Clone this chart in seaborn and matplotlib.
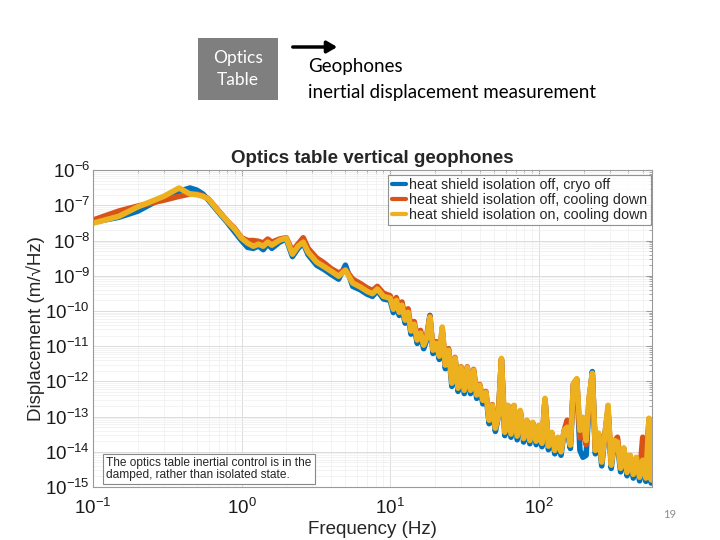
import numpy as np
import pandas as pd
import matplotlib
matplotlib.use("Agg")
import matplotlib.pyplot as plt
from matplotlib.ticker import LogLocator, NullFormatter
import seaborn as sns

# ---------------- data ----------------
freq_low = [0.1, 0.15, 0.2, 0.3, 0.38, 0.45, 0.5, 0.55, 0.6, 0.7,
            0.8, 0.9, 1.0, 1.1, 1.2, 1.3, 1.4, 1.5, 1.6, 1.8,
            2.0, 2.2, 2.4, 2.6, 2.8, 3.2, 3.6, 4.0, 4.5, 5.0,
            5.6, 6.3, 7.0, 7.6, 8.2, 9]
freq_high = [10, 10.5, 11, 11.5, 12, 12.6, 13.2, 13.8, 14.5, 15.2,
             16, 16.8, 17.6, 18.5, 19.4, 20.4, 21.4, 22.4, 23.5, 24.7,
             26, 27.3, 28.6, 30, 31.5, 33, 34.7, 36.4, 38.2, 40,
             42, 44, 46.3, 48.6, 51, 53.5, 56, 59, 62, 65,
             68, 71.5, 75, 79, 83, 87, 91, 96, 100, 105,
             110, 116, 122, 128, 134, 141, 148, 155, 163, 171,
             180, 189, 198, 208, 218, 229, 240, 252, 265, 278,
             292, 307, 322, 338, 355, 373, 392, 411, 432, 453,
             476, 500, 525, 551, 570, 580]

# heat shield isolation off, cryo off
cryo_off_low = [3.3e-8, 4.6e-8, 6.8e-8, 1.7e-7, 2.5e-7, 3.1e-7, 2.7e-7, 2.1e-7, 1.4e-7, 6.4e-8,
                3.3e-8, 1.75e-8, 1.0e-8, 6.4e-9, 6.0e-9, 7.0e-9, 5.5e-9, 8.0e-9, 6.0e-9, 9.0e-9,
                1.1e-8, 3.5e-9, 6.0e-9, 8.5e-9, 4.0e-9, 2.0e-9, 1.5e-9, 1.1e-9, 8.0e-10, 2.0e-9,
                5.0e-10, 4.0e-10, 3.0e-10, 2.6e-10, 3.8e-10, 2.2e-10]
cryo_off_high = [2.0e-10, 9.0e-11, 1.8e-10, 7.5e-11, 1.3e-10, 4.5e-11, 8.0e-11, 2.2e-11, 3.7e-11, 1.2e-11,
                 2.1e-11, 8.5e-12, 1.5e-11, 7.5e-11, 6.2e-12, 1.1e-11, 4.2e-12, 2.8e-11, 2.3e-12, 7.5e-12,
                 7.2e-13, 4.4e-12, 5.2e-13, 2.4e-12, 4.5e-13, 2.4e-12, 4.5e-13, 2.0e-12, 3.3e-13, 7.5e-13,
                 2.3e-13, 4.7e-13, 6.3e-14, 2.0e-13, 3.8e-14, 1.05e-13, 4.2e-12, 2.9e-14, 2.0e-13, 2.6e-14,
                 2.0e-13, 2.2e-14, 1.4e-13, 1.9e-14, 7.5e-14, 1.7e-14, 6.5e-14, 1.6e-14, 5.5e-14, 1.4e-14,
                 3.0e-13, 1.15e-14, 3.4e-14, 8.8e-15, 2.4e-14, 8.0e-15, 3.8e-14, 4.5e-14, 1.25e-14, 8.0e-13,
                 1.1e-12, 1.1e-14, 7.0e-15, 8.0e-15, 2.5e-13, 1.9e-12, 8.8e-15, 3.2e-14, 4.0e-15, 2.8e-14,
                 1.5e-13, 3.4e-15, 2.0e-14, 1.7e-14, 2.7e-15, 1.2e-14, 2.1e-15, 7.5e-15, 1.8e-15, 6.5e-15,
                 1.5e-15, 5.5e-15, 1.45e-15, 8.0e-14, 1.3e-15, 2.6e-15]

# heat shield isolation off, cooling down
off_cool_low = [3.8e-8, 6.9e-8, 9.5e-8, 1.4e-7, 1.8e-7, 2.1e-7, 2.1e-7, 1.9e-7, 1.5e-7, 7.0e-8,
                3.6e-8, 2.2e-8, 1.2e-8, 1.0e-8, 1.0e-8, 9.5e-9, 8.5e-9, 1.1e-8, 9.0e-9, 1.1e-8,
                1.2e-8, 5.0e-9, 8.0e-9, 1.2e-8, 6.0e-9, 3.2e-9, 2.3e-9, 1.6e-9, 1.2e-9, 1.5e-9,
                8.0e-10, 6.0e-10, 4.5e-10, 3.8e-10, 5.0e-10, 3.2e-10]
off_cool_high = [2.7e-10, 1.3e-10, 2.4e-10, 1.1e-10, 1.8e-10, 6.5e-11, 1.15e-10, 3.2e-11, 5.0e-11, 1.8e-11,
                 2.8e-11, 1.25e-11, 2.0e-11, 7.0e-11, 8.5e-12, 1.35e-11, 5.8e-12, 3.0e-11, 3.2e-12, 8.5e-12,
                 1.0e-12, 4.8e-12, 7.0e-13, 2.6e-12, 6.2e-13, 2.6e-12, 6.2e-13, 2.2e-12, 4.6e-13, 8.2e-13,
                 3.2e-13, 5.2e-13, 8.5e-14, 2.2e-13, 5.0e-14, 1.15e-13, 4.2e-12, 4.0e-14, 2.0e-13, 4.2e-14,
                 2.0e-13, 3.8e-14, 1.4e-13, 2.8e-14, 7.5e-14, 2.4e-14, 6.5e-14, 2.2e-14, 5.5e-14, 1.9e-14,
                 3.0e-13, 1.6e-14, 3.5e-14, 1.25e-14, 2.5e-14, 1.1e-14, 4.0e-14, 7.9e-14, 1.7e-14, 8.5e-13,
                 1.1e-12, 2.5e-14, 4.0e-14, 1.6e-14, 3.3e-13, 1.6e-12, 1.2e-14, 3.3e-14, 5.5e-15, 2.9e-14,
                 1.6e-13, 4.8e-15, 2.0e-14, 2.6e-14, 3.8e-15, 1.25e-14, 2.9e-15, 7.8e-15, 2.6e-15, 6.8e-15,
                 2.1e-15, 2.6e-14, 2.0e-15, 8.0e-14, 1.8e-15, 3.0e-15]

# heat shield isolation on, cooling down
on_cool_low = [3.1e-8, 4.9e-8, 9.0e-8, 1.8e-7, 3.1e-7, 2.1e-7, 2.0e-7, 1.8e-7, 1.5e-7, 6.8e-8,
               3.55e-8, 2.1e-8, 1.17e-8, 8.4e-9, 6.9e-9, 7.9e-9, 6.9e-9, 9.0e-9, 7.4e-9, 1.02e-8,
               1.17e-8, 4.1e-9, 6.9e-9, 9.0e-9, 4.7e-9, 2.45e-9, 1.8e-9, 1.35e-9, 9.7e-10, 1.44e-9,
               6.2e-10, 4.8e-10, 3.6e-10, 3.1e-10, 4.2e-10, 2.6e-10]
on_cool_high = [2.3e-10, 1.12e-10, 2.0e-10, 9.2e-11, 1.46e-10, 5.5e-11, 9.2e-11, 2.7e-11, 4.2e-11, 1.5e-11,
                2.35e-11, 1.07e-11, 1.7e-11, 6.7e-11, 7.7e-12, 1.2e-11, 5.2e-12, 3.5e-11, 2.9e-12, 7.7e-12,
                8.9e-13, 4.6e-12, 6.4e-13, 2.5e-12, 5.6e-13, 2.5e-12, 5.6e-13, 2.1e-12, 4.1e-13, 7.8e-13,
                2.9e-13, 4.9e-13, 7.9e-14, 2.1e-13, 4.7e-14, 1.1e-13, 4.5e-12, 3.6e-14, 2.1e-13, 3.2e-14,
                2.1e-13, 2.8e-14, 1.5e-13, 2.4e-14, 7.9e-14, 2.1e-14, 6.9e-14, 2.0e-14, 5.7e-14, 1.75e-14,
                3.3e-13, 1.45e-14, 3.6e-14, 1.1e-14, 2.6e-14, 1.0e-14, 4.1e-14, 5.0e-14, 1.55e-14, 8.9e-13,
                1.2e-12, 4.1e-14, 9.6e-14, 2.1e-14, 3.5e-13, 1.7e-12, 1.1e-14, 3.4e-14, 5.1e-15, 3.0e-14,
                2.1e-13, 4.2e-15, 2.1e-14, 1.9e-14, 3.4e-15, 1.3e-14, 2.6e-15, 8.0e-15, 2.3e-15, 7.0e-15,
                1.9e-15, 5.8e-15, 1.8e-15, 9.0e-14, 1.6e-15, 3.0e-15]

series_labels = ["heat shield isolation off, cryo off",
                 "heat shield isolation off, cooling down",
                 "heat shield isolation on, cooling down"]
series_colors = ["#0072BD", "#D95319", "#EDB120"]

title_text = "Optics table vertical geophones"
xlabel_text = "Frequency (Hz)"
ylabel_text = "Displacement (m/\u221aHz)"
note_text = "The optics table inertial control is in the\ndamped, rather than isolated state."
box_text = "Optics\nTable"
side_text = "Geophones\ninertial displacement measurement"
page_text = "19"

# ---------------- build frame ----------------
freq = freq_low + freq_high
series_values = [cryo_off_low + cryo_off_high,
                 off_cool_low + off_cool_high,
                 on_cool_low + on_cool_high]
frames = []
for lab, vals in zip(series_labels, series_values):
    frames.append(pd.DataFrame({"Frequency": freq, "Displacement": vals, "series": lab}))
df = pd.concat(frames, ignore_index=True)

sns.set_style("white")
plt.rcParams["font.family"] = ["Liberation Sans", "DejaVu Sans"]
plt.rcParams["mathtext.fontset"] = "custom"
plt.rcParams["mathtext.rm"] = "Liberation Sans"
plt.rcParams["mathtext.it"] = "Liberation Sans:italic"
plt.rcParams["mathtext.bf"] = "Liberation Sans:bold"

fig = plt.figure(figsize=(7.2, 5.4), dpi=100)
ax = fig.add_axes([0.129, 0.098, 0.777, 0.587])

sns.lineplot(data=df, x="Frequency", y="Displacement", hue="series",
             hue_order=series_labels, palette=series_colors,
             estimator=None, sort=False, linewidth=4.0, ax=ax, legend=True)

ax.set_xscale("log")
ax.set_yscale("log")
ax.set_xlim(0.1, 580)
ax.set_ylim(1e-15, 1e-6)

ax.yaxis.set_major_locator(LogLocator(base=10, numticks=20))
ax.yaxis.set_minor_locator(LogLocator(base=10, subs=np.arange(2, 10), numticks=20))
ax.yaxis.set_minor_formatter(NullFormatter())
ax.xaxis.set_major_locator(LogLocator(base=10, numticks=10))
ax.xaxis.set_minor_locator(LogLocator(base=10, subs=np.arange(2, 10), numticks=10))
ax.xaxis.set_minor_formatter(NullFormatter())

ax.grid(True, which="major", color="#dcdcdc", linewidth=0.7)
ax.grid(True, which="minor", color="#efefef", linewidth=0.5)
ax.set_axisbelow(True)

ax.tick_params(which="both", direction="in", top=True, right=True, colors="#9a9a9a")
ax.tick_params(which="major", length=4, labelsize=13.5, labelcolor="#1a1a1a")
ax.tick_params(axis="x", which="major", pad=8)
ax.tick_params(axis="y", which="major", pad=2)
ax.tick_params(which="minor", length=2)
for sp in ax.spines.values():
    sp.set_color("#9a9a9a")
    sp.set_linewidth(0.8)

ax.set_title(title_text, fontsize=13.5, fontweight="bold", pad=5)
ax.set_xlabel(xlabel_text, fontsize=13.5)
ax.set_ylabel(ylabel_text, fontsize=13.5)
ax.xaxis.set_label_coords(0.5, -0.108)
ax.yaxis.set_label_coords(-0.085, 0.5)

leg = ax.legend(loc="upper right", bbox_to_anchor=(0.997, 0.985), borderaxespad=0,
                fontsize=10.3, handlelength=1.0, handletextpad=0.2, labelspacing=0.05,
                borderpad=0.25, frameon=True, fancybox=False)
leg.get_frame().set_edgecolor("#777777")
leg.get_frame().set_linewidth(0.8)
for ln in leg.get_lines():
    ln.set_linewidth(3)

ax.text(0.024, 0.018, note_text, transform=ax.transAxes, fontsize=8.6,
        ha="left", va="bottom", linespacing=1.0,
        bbox=dict(facecolor="white", edgecolor="#888888", linewidth=0.8,
                  boxstyle="square,pad=0.25"))

# ---------------- slide decorations ----------------
fig.patches.append(plt.Rectangle((198 / 720, 1 - 100 / 540), 80 / 720, 62 / 540,
                                 transform=fig.transFigure, facecolor="#7f7f7f",
                                 edgecolor="none"))
fig.text(238 / 720, 1 - 69 / 540, box_text, color="white", fontsize=12.5,
         ha="center", va="center", family=["Lato", "DejaVu Sans"], linespacing=1.45)
fig.add_artist(matplotlib.patches.FancyArrowPatch(
    (290 / 720, 1 - 47 / 540), (340 / 720, 1 - 47 / 540), transform=fig.transFigure,
    arrowstyle="-|>,head_length=6,head_width=3.5", color="black", linewidth=2.5))
fig.text(308 / 720, 1 - 79.5 / 540, side_text, color="black", fontsize=13.5,
         ha="left", va="center", family=["Lato", "DejaVu Sans"], linespacing=1.6)
fig.text(670 / 720, 1 - 514 / 540, page_text, color="#8c8c8c", fontsize=8,
         ha="center", va="center", family=["Lato", "DejaVu Sans"])

fig.savefig("out.png", dpi=100)
